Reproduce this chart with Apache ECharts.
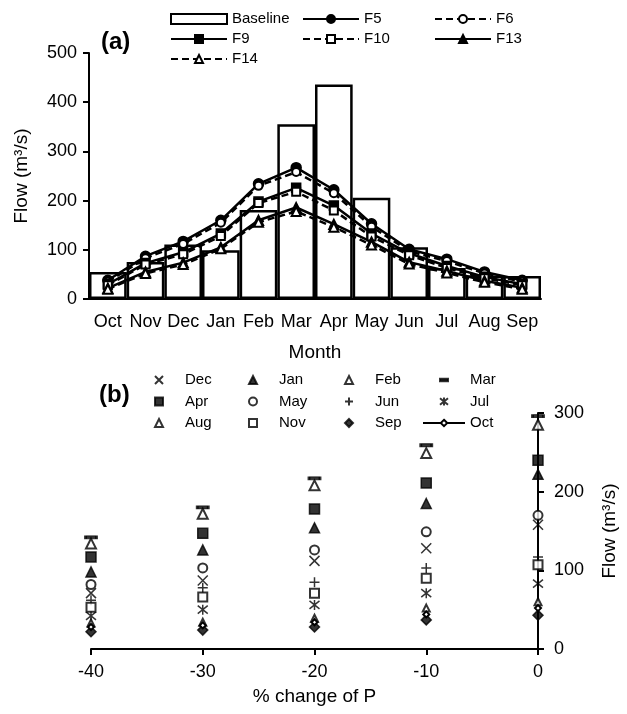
<!DOCTYPE html>
<html>
<head>
<meta charset="utf-8">
<script src="https://cdn.jsdelivr.net/npm/echarts@6/dist/echarts.min.js"></script>
<style>
  html, body { margin: 0; padding: 0; background: #fff; }
  #chart { width: 627px; height: 714px; }
</style>
</head>
<body>
<div id="chart"></div>
<script>
// (a) monthly flow
let months = ['Oct', 'Nov', 'Dec', 'Jan', 'Feb', 'Mar', 'Apr', 'May', 'Jun', 'Jul', 'Aug', 'Sep'];
let baseline = [55, 75, 111, 99, 181, 355, 436, 206, 105, 63, 48, 47];
let f5  = [38, 87, 117, 160, 234, 267, 222, 153, 101, 81, 55, 38];
let f6  = [35, 83, 112, 155, 230, 258, 215, 147, 97, 77, 52, 35];
let f9  = [30, 73, 95, 133, 198, 226, 190, 133, 93, 67, 45, 30];
let f10 = [28, 70, 91, 128, 195, 218, 180, 127, 89, 63, 42, 28];
let f13 = [22, 55, 74, 105, 160, 186, 152, 116, 75, 57, 37, 23];
let f14 = [20, 52, 70, 102, 156, 178, 146, 110, 71, 53, 34, 20];

// (b) flow against % change of P
let pChange = [-40, -30, -20, -10, 0];
let flowDec = [71, 87, 112, 128, 158];
let flowJan = [98, 126, 154, 185, 222];
let flowFeb = [134, 172, 208, 249, 285];
let flowMar = [142, 180, 217, 259, 296];
let flowApr = [117, 147, 178, 211, 240];
let flowMay = [82, 103, 126, 149, 170];
let flowJun = [62, 78, 85, 103, 117];
let flowJul = [42, 50, 56, 71, 83];
let flowAug = [33, 34, 39, 52, 60];
let flowNov = [53, 66, 71, 90, 107];
let flowSep = [22, 24, 28, 37, 43];
let flowOct = [28, 30, 34, 44, 52];

let font = 'Liberation Sans, Arial, sans-serif';

let crossPath = 'path://M0,0L10,10M10,0L0,10';
let plusPath = 'path://M5,0L5,10M0,5L10,5';
let starPath = 'path://M0,1L10,9M10,1L0,9M5,0L5,10';
let dashPath = 'path://M0,0H10V3H0Z';
// same dash, padded so the legend does not stretch it
let dashIcon = 'path://M0,0M10,10M0,3.5H10V6.5H0Z';

function pairs(vals) {
	return pChange.map(function (p, i) { return [p, vals[i]]; });
}

// Oct points only: a gap after each point keeps the line from joining them
function loosePairs(vals) {
	let out = [];
	pChange.forEach(function (p, i) {
		out.push([p, vals[i]]);
		out.push([p, null]);
	});
	return out;
}

function flowLine(name, vals, symbol, size, dashed) {
	return {
		name: name,
		type: 'line',
		data: vals,
		symbol: symbol,
		symbolSize: size,
		lineStyle: { color: '#000', width: 2.5, type: dashed ? [7, 4] : 'solid' },
		itemStyle: { color: '#000', borderColor: '#000', borderWidth: 1.5 },
		z: 3
	};
}

function monthScatter(name, vals, symbol, size) {
	return {
		name: name,
		type: 'scatter',
		xAxisIndex: 1,
		yAxisIndex: 1,
		data: pairs(vals),
		symbol: symbol,
		symbolSize: size,
		itemStyle: { color: '#000', borderColor: '#000', borderWidth: 1.5 },
		z: 4
	};
}

let legendText = { fontSize: 15, lineHeight: 16, color: '#000', fontFamily: font };
let markText = { fontSize: 15, lineHeight: 16, color: '#000', fontFamily: font, padding: [0, 0, 0, 17] };

function legendA(items, left) {
	return { data: items, left: left, top: 11, orient: 'vertical', itemWidth: 56, itemHeight: 10, itemGap: 4, padding: 0, selectedMode: false, textStyle: legendText };
}
function legendB(items, left) {
	return { data: items, left: left, top: 372, orient: 'vertical', itemWidth: 8, itemHeight: 8, itemGap: 5.5, padding: 0, selectedMode: false, textStyle: markText };
}

let axisText = { color: '#000', fontSize: 18, fontFamily: font };
let axisLine = { lineStyle: { color: '#000', width: 2 } };
let axisTick = { lineStyle: { color: '#000', width: 2 }, length: 6 };

let chart = echarts.init(document.getElementById('chart'));
chart.setOption({
	animation: false,
	backgroundColor: '#fff',
	textStyle: { fontFamily: font, color: '#000' },
	title: [
		{ text: '(a)', left: 96, top: 25, textStyle: { fontSize: 24, fontWeight: 'bold', color: '#000', fontFamily: font } },
		{ text: '(b)', left: 94, top: 378, textStyle: { fontSize: 24, fontWeight: 'bold', color: '#000', fontFamily: font } }
	],
	legend: [
		legendA([{ name: 'Baseline', icon: 'rect' }, 'F9', 'F14'], 170),
		legendA(['F5', 'F10'], 302),
		legendA(['F6', 'F13'], 434),
		legendB(['Dec', 'Apr', 'Aug'], 154),
		legendB(['Jan', 'May', 'Nov'], 248),
		legendB(['Feb', 'Jun', 'Sep'], 344),
		legendB([{ name: 'Mar', icon: dashIcon }, 'Jul'], 439),
		{ data: ['Oct'], left: 422, top: 415, itemWidth: 42, itemHeight: 8, padding: 0, selectedMode: false, textStyle: legendText }
	],
	grid: [
		{ left: 89, top: 53, width: 452, height: 246 },
		{ left: 91, top: 413, width: 451, height: 236 }
	],
	xAxis: [
		{
			gridIndex: 0, type: 'category', data: months,
			name: 'Month', nameLocation: 'middle', nameGap: 44,
			nameTextStyle: { fontSize: 19, color: '#000', fontFamily: font },
			axisLine: axisLine, axisTick: axisTick,
			axisLabel: Object.assign({ margin: 14, interval: 0 }, axisText),
			splitLine: { show: false }
		},
		{
			gridIndex: 1, type: 'value', min: -40, max: 0, interval: 10,
			name: '% change of P', nameLocation: 'middle', nameGap: 38,
			nameTextStyle: { fontSize: 19, color: '#000', fontFamily: font },
			axisLine: axisLine, axisTick: axisTick,
			axisLabel: Object.assign({ margin: 14 }, axisText),
			splitLine: { show: false }
		}
	],
	yAxis: [
		{
			gridIndex: 0, type: 'value', min: 0, max: 500, interval: 100,
			name: 'Flow (m³/s)', nameLocation: 'middle', nameGap: 58, nameRotate: 90,
			nameTextStyle: { fontSize: 19, color: '#000', fontFamily: font },
			axisLine: { show: true, lineStyle: { color: '#000', width: 2 } }, axisTick: { show: true, lineStyle: { color: '#000', width: 2 }, length: 6 },
			axisLabel: Object.assign({ margin: 12 }, axisText),
			splitLine: { show: false }
		},
		{
			gridIndex: 1, type: 'value', min: 0, max: 300, interval: 100, position: 'right',
			name: 'Flow (m³/s)', nameLocation: 'middle', nameGap: 62, nameRotate: 90,
			nameTextStyle: { fontSize: 19, color: '#000', fontFamily: font },
			axisLine: { show: true, lineStyle: { color: '#000', width: 2 } }, axisTick: { show: true, lineStyle: { color: '#000', width: 2 }, length: 6 },
			axisLabel: Object.assign({ margin: 16 }, axisText),
			splitLine: { show: false }
		}
	],
	series: [
		{
			name: 'Baseline', type: 'bar', data: baseline,
			barCategoryGap: '0%',
			itemStyle: { color: '#fff', borderColor: '#000', borderWidth: 2.5 },
			z: 2
		},
		flowLine('F5', f5, 'circle', 10, false),
		flowLine('F6', f6, 'emptyCircle', 8, true),
		flowLine('F9', f9, 'rect', 9, false),
		flowLine('F10', f10, 'emptyRect', 8, true),
		flowLine('F13', f13, 'triangle', 10, false),
		flowLine('F14', f14, 'emptyTriangle', 9, true),
		monthScatter('Dec', flowDec, crossPath, 10),
		monthScatter('Jan', flowJan, 'triangle', 10),
		monthScatter('Feb', flowFeb, 'emptyTriangle', 10),
		monthScatter('Mar', flowMar, dashPath, [11, 3]),
		monthScatter('Apr', flowApr, 'rect', 10),
		monthScatter('May', flowMay, 'emptyCircle', 9),
		monthScatter('Jun', flowJun, plusPath, 10),
		monthScatter('Jul', flowJul, starPath, 10),
		monthScatter('Aug', flowAug, 'emptyTriangle', 7),
		monthScatter('Nov', flowNov, 'emptyRect', 9),
		monthScatter('Sep', flowSep, 'diamond', 10),
		{
			name: 'Oct', type: 'line', xAxisIndex: 1, yAxisIndex: 1,
			data: loosePairs(flowOct),
			connectNulls: false,
			symbol: 'emptyDiamond', symbolSize: 6,
			lineStyle: { color: '#000', width: 2 },
			itemStyle: { color: '#000', borderColor: '#000', borderWidth: 1.5 },
			z: 4
		}
	]
});
</script>
</body>
</html>
